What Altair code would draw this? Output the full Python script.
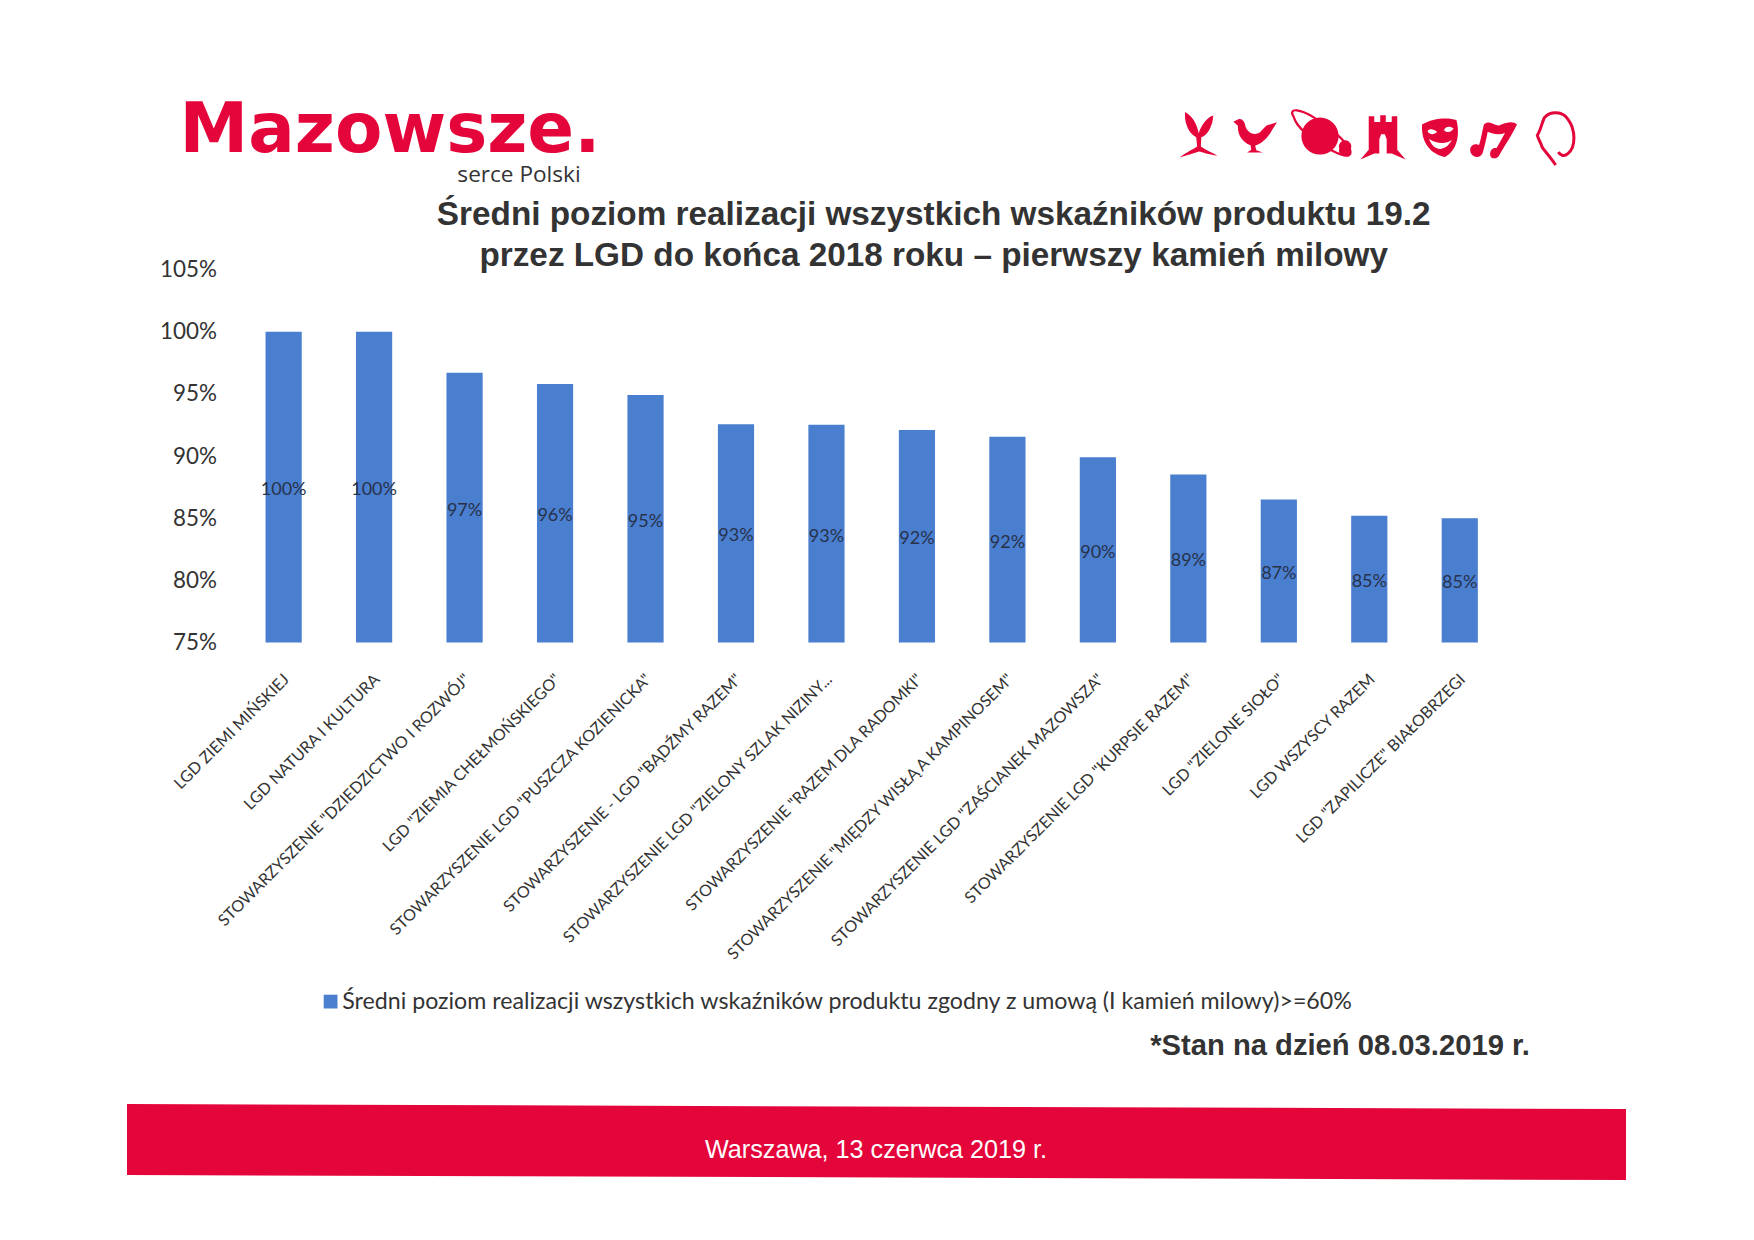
import altair as alt

categories = [
    "LGD ZIEMI MIŃSKIEJ",
    "LGD NATURA I KULTURA",
    'STOWARZYSZENIE "DZIEDZICTWO I ROZWÓJ"',
    'LGD "ZIEMIA CHEŁMOŃSKIEGO"',
    'STOWARZYSZENIE LGD "PUSZCZA KOZIENICKA"',
    'STOWARZYSZENIE -  LGD "BĄDŹMY RAZEM"',
    'STOWARZYSZENIE LGD "ZIELONY SZLAK NIZINY...',
    'STOWARZYSZENIE "RAZEM DLA RADOMKI"',
    'STOWARZYSZENIE "MIĘDZY WISŁĄ A KAMPINOSEM"',
    'STOWARZYSZENIE LGD "ZAŚCIANEK MAZOWSZA"',
    'STOWARZYSZENIE LGD "KURPSIE RAZEM"',
    'LGD "ZIELONE SIOŁO"',
    "LGD WSZYSCY RAZEM",
    'LGD "ZAPILICZE" BIAŁOBRZEGI',
]
values = [1.0, 1.0, 0.967, 0.958, 0.949, 0.9255, 0.9251, 0.921, 0.9155, 0.899, 0.8852, 0.8651, 0.852, 0.85]
y_ticks = [0.75, 0.80, 0.85, 0.90, 0.95, 1.00, 1.05]
series = "Średni poziom realizacji wszystkich wskaźników produktu zgodny z umową (I kamień milowy)>=60%"
title_lines = [
    "Średni poziom realizacji wszystkich wskaźników produktu 19.2",
    "przez LGD do końca 2018 roku – pierwszy kamień milowy",
]

BLUE = "#4a7ecf"
RED = "#e4053b"
INK = "#333333"
PLOT_L, PLOT_T, PLOT_W, PLOT_H = 230.4, 261.5, 1266.6, 373.0
CANVAS_W, CANVAS_H = 1738, 1222


def px(v):
    return v - 8 - PLOT_L


def py(v):
    return v - 8 - PLOT_T


rows = [{"c": c, "v": v, "s": series, "b": 0.75} for c, v in zip(categories, values)]
base = alt.Chart(alt.Data(values=rows))
x_enc = alt.X(
    "c:N",
    sort=categories,
    scale=alt.Scale(paddingInner=0.6, paddingOuter=0.3),
    axis=alt.Axis(
        title=None, labelAngle=-45, labelAlign="right", labelBaseline="middle",
        labelFont="Lato", labelFontSize=16.1, labelColor=INK, labelPadding=34, labelOffset=3,
        labelLimit=700, labelOverlap=False, ticks=False, domain=False,
    ),
)
bars = base.mark_bar(opacity=1).encode(
    x=x_enc,
    y=alt.Y(
        "v:Q",
        scale=alt.Scale(domain=[0.75, 1.05], zero=False, nice=False),
        axis=alt.Axis(
            title=None, values=y_ticks, format=".0%", grid=False, ticks=False, domain=False,
            labelFont="Lato", labelFontSize=22.4, labelColor=INK, labelPadding=22,
        ),
    ),
    y2=alt.Y2("b:Q"),
    color=alt.Color(
        "s:N",
        scale=alt.Scale(domain=[series], range=[BLUE]),
        legend=alt.Legend(
            orient="none", legendX=px(319), legendY=py(990), title=None, symbolType="square",
            symbolSize=190, symbolStrokeWidth=0, labelFont="Lato", labelFontSize=23.2,
            labelColor=INK, labelLimit=1300, labelOffset=0,
        ),
    ),
)
bar_labels = (
    base.transform_calculate(mid="(datum.v + 0.75) / 2")
    .mark_text(font="Lato", fontSize=18, color="#27324a", align="center", baseline="middle", dy=3)
    .encode(x=alt.X("c:N", sort=categories), y=alt.Y("mid:Q"), text=alt.Text("v:Q", format=".0%"))
)


def label(text, x, y, size, color=INK, font="Liberation Sans", weight="normal", align="center", style="normal"):
    return alt.Chart(alt.Data(values=[{"t": text}])).mark_text(
        font=font, fontSize=size, color=color, fontWeight=weight, align=align,
        baseline="middle", fontStyle=style,
    ).encode(text="t:N", x=alt.value(px(x)), y=alt.value(py(y)))


def glyph(path, x, y, box, filled=True, stroke=0):
    return alt.Chart(alt.Data(values=[{"t": 1}])).mark_point(
        shape=path, size=box * box, filled=filled, color=RED, opacity=1, strokeWidth=stroke,
    ).encode(x=alt.value(px(x)), y=alt.value(py(y)))


band = glyph("M-1 -0.0507 L1 -0.044 L1 0.0507 L-1 0.044 Z", 876.5, 1142, 1499)
plant = glyph(
    "M-0.08 0.5 L-0.12 0.1 C-0.5 -0.1 -0.65 -0.6 -0.6 -1 C-0.25 -0.8 -0.06 -0.4 -0.02 -0.08 "
    "C0.1 -0.4 0.3 -0.75 0.62 -0.85 C0.6 -0.4 0.38 0 0.1 0.1 L0.08 0.5 C0.3 0.66 0.55 0.75 0.8 0.9 "
    "C0.4 0.85 0.15 0.75 0 0.72 C-0.2 0.78 -0.5 0.88 -0.85 0.98 C-0.55 0.75 -0.3 0.65 -0.08 0.5 Z",
    1199, 135, 46,
)
bird = glyph(
    "M-0.9 -0.62 L-0.7 -0.72 C-0.55 -0.8 -0.4 -0.65 -0.38 -0.45 C-0.3 -0.15 0 0 0.25 -0.15 "
    "C0.4 -0.28 0.5 -0.5 0.7 -0.5 L1 -0.6 L0.78 -0.25 C0.6 0.1 0.3 0.35 0.05 0.42 L0.1 0.62 L0.38 0.72 "
    "L-0.3 0.72 L-0.12 0.6 L-0.15 0.4 C-0.55 0.25 -0.72 -0.1 -0.7 -0.45 Z",
    1254, 136, 46,
)
planet = glyph(
    "M-0.6 0 A0.6 0.6 0 1 1 0.6 0 A0.6 0.6 0 1 1 -0.6 0 Z "
    "M0.62 0.4 A0.2 0.2 0 1 1 1 0.4 A0.2 0.2 0 1 1 0.62 0.4 Z",
    1320, 136, 62,
)
ring = glyph(
    "M-0.85 -0.62 C-1.05 -0.95 -0.6 -0.85 -0.2 -0.6 C0.3 -0.3 0.85 0.15 0.98 0.5 "
    "C1.02 0.75 0.6 0.6 0.3 0.42 C-0.2 0.15 -0.75 -0.25 -0.85 -0.62 Z",
    1320, 136, 62, filled=False, stroke=2.2,
)
tower = glyph(
    "M-0.62 -0.9 L-0.38 -0.9 L-0.38 -0.65 L-0.12 -0.65 L-0.12 -0.95 L0.12 -0.95 L0.12 -0.65 L0.38 -0.65 "
    "L0.38 -0.9 L0.62 -0.9 L0.62 0.55 L0.98 0.98 L0.38 0.72 L0.16 0.72 L0.16 0.1 L0.08 -0.12 L-0.08 -0.12 L-0.16 0.1 "
    "L-0.16 0.72 L-0.38 0.72 L-0.98 0.98 L-0.62 0.55 Z",
    1383, 137, 46,
)
mask = glyph(
    "M-0.9 -0.62 C-0.4 -0.95 0.4 -1 0.82 -0.85 C1 -0.2 0.9 0.65 0.25 1 C-0.35 0.9 -0.95 0.4 -0.9 -0.62 Z "
    "M-0.62 -0.3 C-0.55 -0.1 -0.3 -0.1 -0.15 -0.25 C-0.3 -0.42 -0.55 -0.42 -0.62 -0.3 Z "
    "M0.2 -0.35 C0.3 -0.2 0.55 -0.2 0.68 -0.42 C0.5 -0.55 0.3 -0.55 0.2 -0.35 Z "
    "M-0.55 0.1 C-0.3 0.75 0.25 0.75 0.6 0.15 C0.3 0.35 -0.15 0.35 -0.55 0.1 Z",
    1440, 137, 40,
)
music = glyph(
    "M-0.95 0.45 C-0.95 0.25 -0.72 0.18 -0.58 0.25 C-0.5 0 -0.45 -0.3 -0.38 -0.6 C-0.1 -0.85 0.1 -0.45 0.35 -0.6 "
    "C0.6 -0.7 0.85 -0.75 1 -0.6 C0.8 -0.2 0.55 0.2 0.3 0.6 C0.2 0.9 -0.15 0.85 -0.12 0.6 C-0.1 0.4 0.05 0.35 0.15 0.38 "
    "L0.5 -0.25 C0.25 -0.15 0 -0.2 -0.22 -0.3 C-0.28 0 -0.35 0.3 -0.42 0.55 C-0.5 0.85 -0.95 0.8 -0.95 0.45 Z",
    1493, 139, 48,
)
head = glyph(
    "M0.1 1 C-0.1 0.7 -0.25 0.55 -0.4 0.35 C-0.45 0.15 -0.55 0.05 -0.58 -0.1 C-0.45 -0.3 -0.42 -0.55 -0.32 -0.75 "
    "C-0.1 -1 0.35 -1 0.55 -0.7 C0.85 -0.3 0.85 0.35 0.55 0.58 C0.4 0.72 0.25 0.62 0.2 0.52",
    1553, 138, 54, filled=False, stroke=3,
)

layers = [
    band, bars, bar_labels, plant, bird, planet, ring, tower, mask, music, head,
    label("Mazowsze.", 390, 131, 69, color=RED, font="DejaVu Sans", weight="bold"),
    label("serce Polski", 519, 175, 22.6, font="Open Sans"),
    label("*Stan na dzień 08.03.2019 r.", 1340, 1046, 29.2, weight="bold"),
    label("Warszawa, 13 czerwca 2019 r.", 876, 1150, 25.2, color="#ffffff"),
]

chart = (
    alt.layer(*layers)
    .properties(
        width=PLOT_W,
        height=PLOT_H,
        padding={
            "left": PLOT_L,
            "top": PLOT_T,
            "right": CANVAS_W - PLOT_L - PLOT_W,
            "bottom": CANVAS_H - PLOT_T - PLOT_H,
        },
        autosize=alt.AutoSizeParams(type="none"),
        background="white",
        title=alt.TitleParams(
            text=title_lines, font="Liberation Sans", fontSize=33.3, fontWeight="bold",
            color=INK, anchor="middle", lineHeight=41, dx=62, offset=0, dy=209, baseline="bottom",
        ),
    )
    .configure_view(stroke=None)
)

chart.save("out.html", embed_options={"renderer": "svg", "actions": False})
